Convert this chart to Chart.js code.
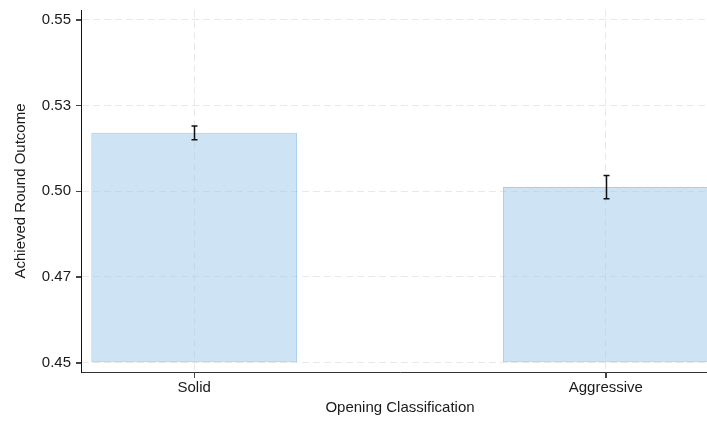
<!DOCTYPE html>
<html>
<head>
<meta charset="utf-8">
<script src="https://cdn.jsdelivr.net/npm/chart.js@4"></script>
<style>
  html, body { margin: 0; padding: 0; background: #fff; overflow: hidden; }
  #wrap { width: 707px; height: 423px; overflow: hidden; position: relative; }
  canvas { display: block; }
</style>
</head>
<body>
<div id="wrap"><canvas id="c" width="720" height="423"></canvas></div>
<script>
// ---- data ----
const categories = ['Solid', 'Aggressive'];
const means = [0.517, 0.5012];
const errors = [0.002, 0.0034];
const yTickValues = [0.45, 0.475, 0.50, 0.525, 0.55];
const yTickLabels = ['0.45', '0.47', '0.50', '0.53', '0.55'];
const baseValue = 0.45;
const xTitle = 'Opening Classification';
const yTitle = 'Achieved Round Outcome';

const FONT = "'Liberation Sans', Arial, Helvetica, sans-serif";

const errorBarPlugin = {
  id: 'errorBars',
  afterDatasetsDraw(chart) {
    const ctx = chart.ctx;
    const xs = chart.scales.x, ys = chart.scales.y;
    ctx.save();
    ctx.strokeStyle = '#111';
    ctx.lineWidth = 1.5;
    means.forEach((m, i) => {
      const x = Math.round(xs.getPixelForValue(i)) + 0.5;
      const yTop = ys.getPixelForValue(m + errors[i]);
      const yBot = ys.getPixelForValue(m - errors[i]);
      ctx.beginPath();
      ctx.moveTo(x, yTop); ctx.lineTo(x, yBot);
      ctx.moveTo(x - 3, yTop); ctx.lineTo(x + 3, yTop);
      ctx.moveTo(x - 3, yBot); ctx.lineTo(x + 3, yBot);
      ctx.stroke();
    });
    ctx.restore();
  }
};

// outward tick marks on both axes, placed from the scales' own ticks
const tickMarkPlugin = {
  id: 'tickMarks',
  afterDraw(chart) {
    const ctx = chart.ctx;
    const xs = chart.scales.x, ys = chart.scales.y;
    const area = chart.chartArea;
    ctx.save();
    ctx.strokeStyle = '#444';
    ctx.lineWidth = 1;
    ctx.setLineDash([]);
    ctx.beginPath();
    ys.ticks.forEach(t => {
      const y = Math.round(ys.getPixelForValue(t.value)) + 0.5;
      ctx.moveTo(area.left - 5, y); ctx.lineTo(area.left, y);
    });
    xs.ticks.forEach(t => {
      const x = Math.round(xs.getPixelForValue(t.value)) + 0.5;
      ctx.moveTo(x, area.bottom); ctx.lineTo(x, area.bottom + 6);
    });
    ctx.stroke();
    ctx.restore();
  }
};

new Chart(document.getElementById('c'), {
  type: 'bar',
  data: {
    datasets: [{
      data: categories.map((c, i) => ({ x: i, y: means[i] })),
      base: baseValue,
      backgroundColor: 'rgba(158,202,234,0.5)',
      borderColor: 'rgba(140,195,235,0.8)',
      borderWidth: 1,
      borderSkipped: false,
      categoryPercentage: 1,
      barPercentage: 0.5
    }]
  },
  options: {
    responsive: false,
    devicePixelRatio: 1,
    animation: false,
    layout: { padding: { top: 10, right: 1, bottom: 0, left: 0 } },
    plugins: { legend: { display: false }, tooltip: { enabled: false } },
    scales: {
      x: {
        type: 'linear',
        min: -0.275,
        max: 1.275,
        offset: false,
        afterBuildTicks: (s) => { s.ticks = categories.map((c, i) => ({ value: i })); },
        afterFit: (s) => { s.height = 51; s.paddingLeft = 0; s.paddingRight = 0; },
        ticks: {
          callback: (v) => categories[v],
          font: { family: FONT, size: 15 },
          color: '#1a1a1a',
          padding: 1,
          maxRotation: 0,
          autoSkip: false
        },
        grid: {
          offset: false,
          color: '#e9e9e9',
          lineWidth: 1,
          drawTicks: true,
          tickLength: 6,
          tickColor: '#444',
          tickWidth: 1
        },
        border: { display: true, color: '#333', width: 1, dash: [7, 4] },
        title: {
          display: true,
          text: xTitle,
          font: { family: FONT, size: 15 },
          color: '#1a1a1a',
          padding: { top: 0, bottom: 6 }
        }
      },
      y: {
        type: 'linear',
        min: 0.4473,
        max: 0.5528,
        afterBuildTicks: (s) => { s.ticks = yTickValues.map(v => ({ value: v })); },
        afterFit: (s) => { s.width = 81; s.paddingTop = 0; s.paddingBottom = 0; },
        ticks: {
          callback: (v, i) => yTickLabels[i],
          font: { family: FONT, size: 15 },
          color: '#1a1a1a',
          padding: 5
        },
        grid: {
          color: '#e9e9e9',
          lineWidth: 1,
          drawTicks: true,
          tickLength: 5,
          tickColor: '#444',
          tickWidth: 1
        },
        border: { display: true, color: '#111', width: 1, dash: [7, 4] },
        title: {
          display: true,
          text: yTitle,
          font: { family: FONT, size: 15 },
          color: '#1a1a1a',
          padding: { top: 12, bottom: 0 }
        }
      }
    }
  },
  plugins: [errorBarPlugin, tickMarkPlugin]
});
</script>
</body>
</html>
